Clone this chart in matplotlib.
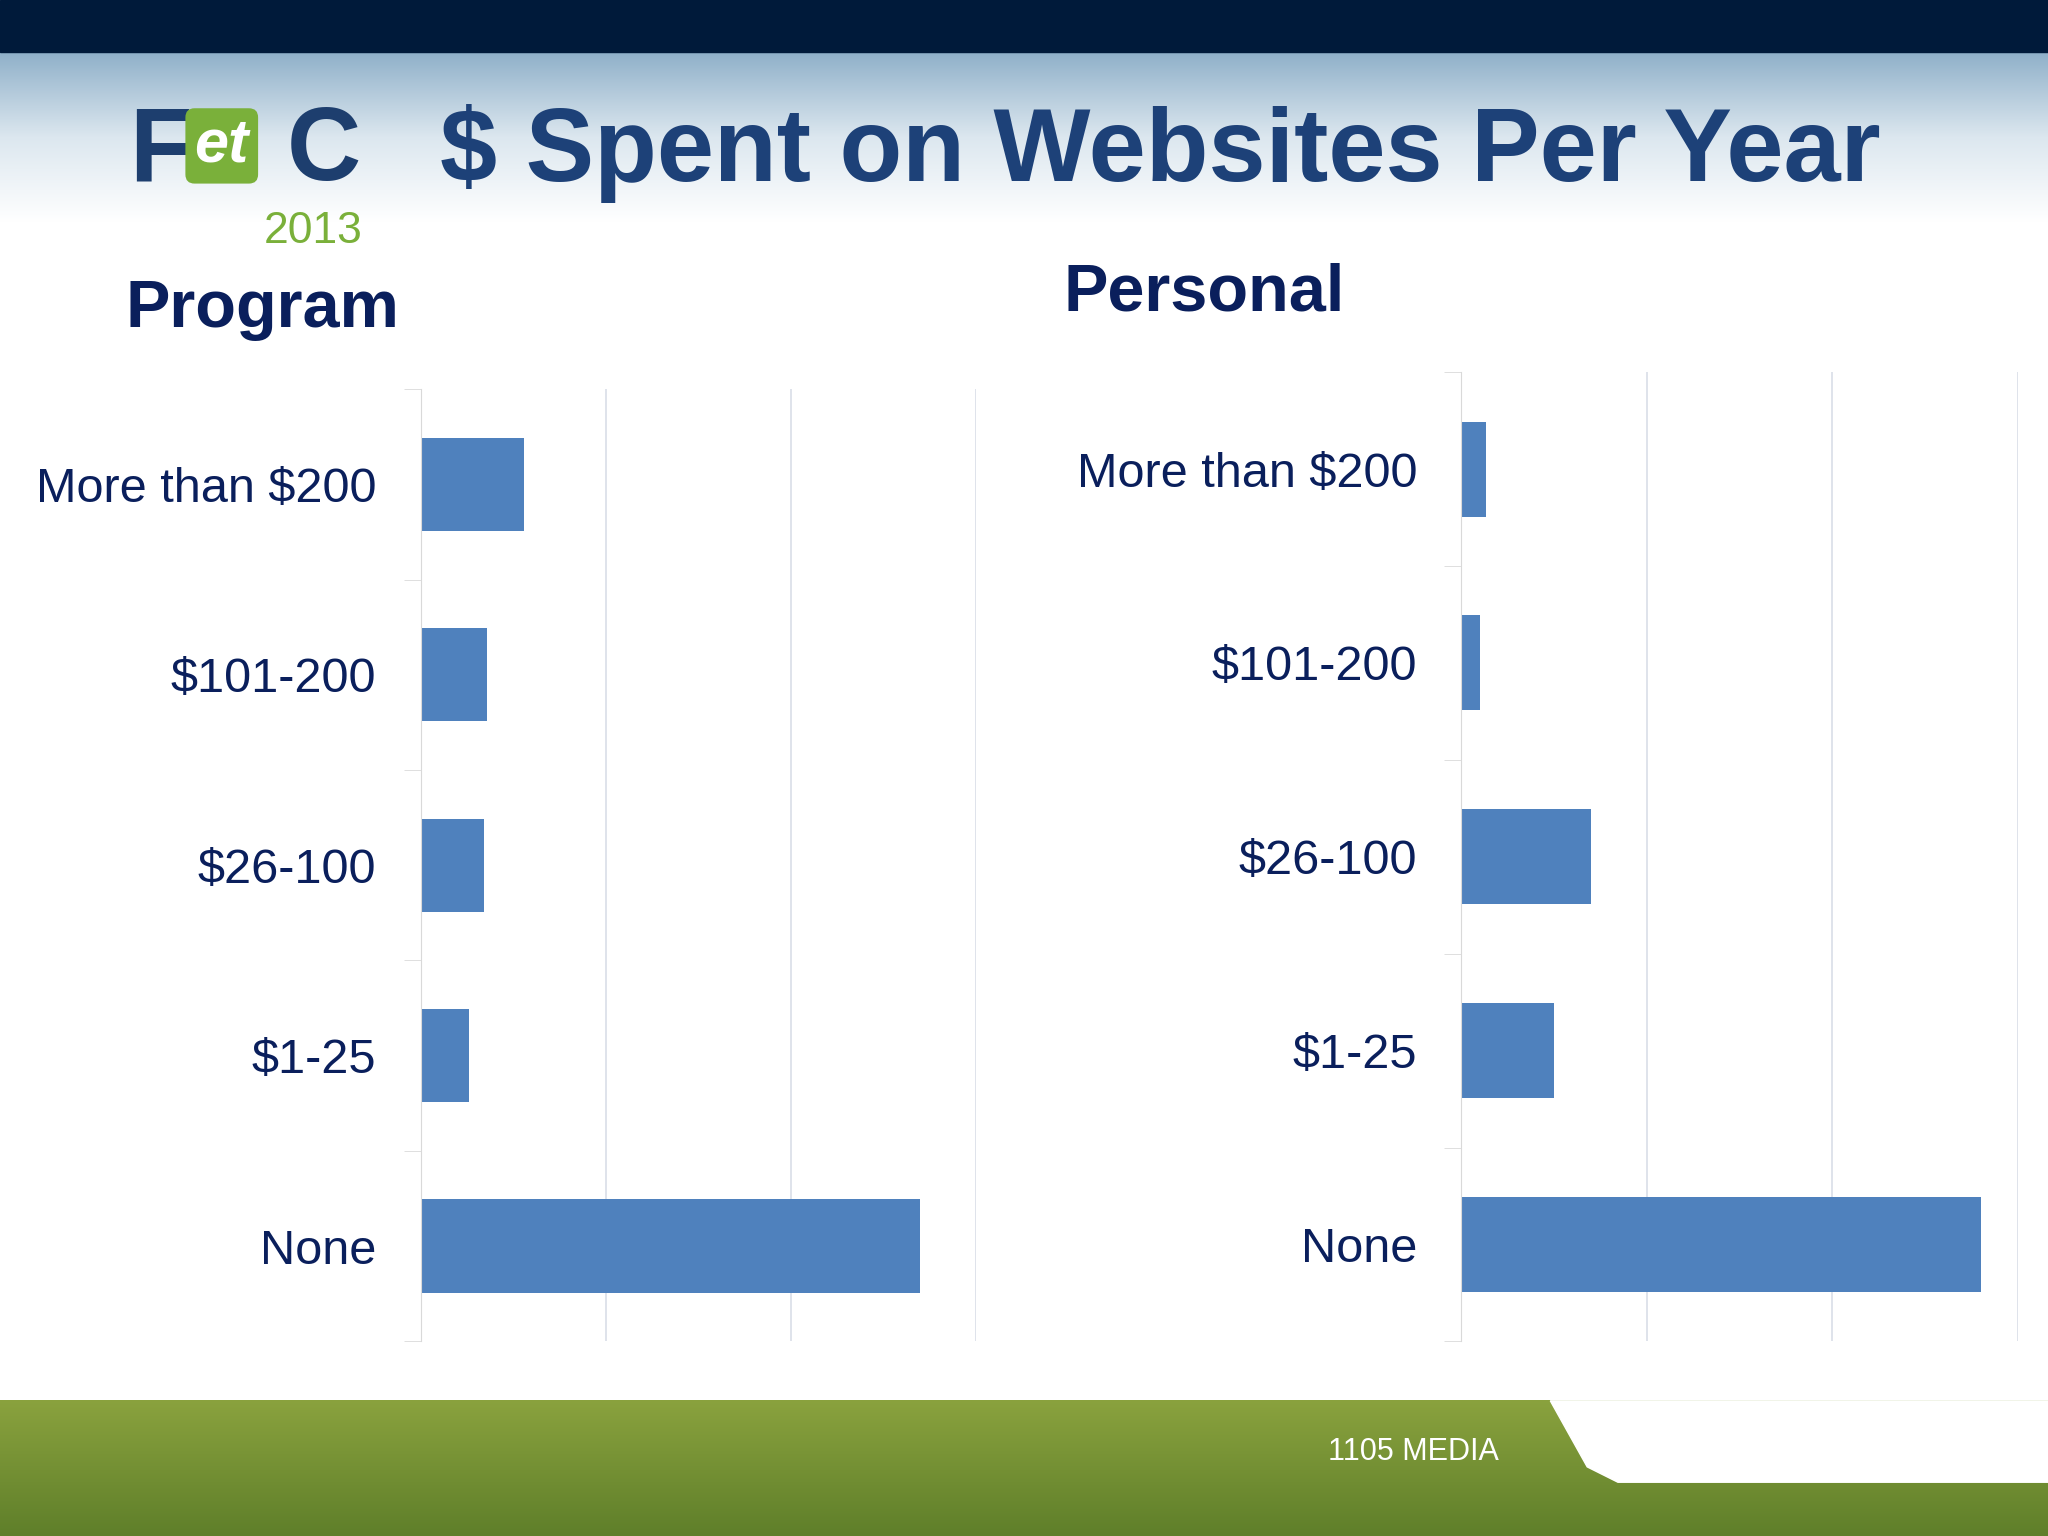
import matplotlib
matplotlib.use("Agg")
import matplotlib.pyplot as plt
import numpy as np
from matplotlib.patches import Polygon
from matplotlib.colors import LinearSegmentedColormap

categories = ["More than $200", "$101-200", "$26-100", "$1-25", "None"]
program_vals = [0.56, 0.36, 0.34, 0.26, 2.70]
personal_vals = [0.13, 0.10, 0.70, 0.50, 2.80]

plt.rcParams['font.family'] = ['Liberation Sans', 'DejaVu Sans']
fig = plt.figure(figsize=(20.48, 15.36), dpi=100)
bg = fig.add_axes([0, 0, 1, 1]); bg.set_xlim(0, 1); bg.set_ylim(0, 1); bg.axis('off')
grad = np.linspace(0, 1, 256).reshape(-1, 1)
cm = LinearSegmentedColormap.from_list('g', ['#ffffff', '#ffffff', '#dce7ef', '#8fb0c9'])
bg.imshow(grad, extent=[0, 1, 0.80, 0.966], aspect='auto', cmap=cm, origin='lower', zorder=0)
bg.add_patch(plt.Rectangle((0, 0.966), 1, 0.034, color='#001a3a', zorder=1))
cmg = LinearSegmentedColormap.from_list('gg', ['#8aa23e', '#5f7f2a'])
bg.imshow(grad, extent=[0, 1, 0, 0.088], aspect='auto', cmap=cmg, zorder=0)
bg.add_patch(Polygon([[0.757, 0.088], [1, 0.088], [1, 0.035], [0.79, 0.035], [0.775, 0.045]],
                     closed=True, color='white', zorder=1))
bg.text(0.69, 0.055, "1105 MEDIA", color='white', fontsize=22, ha='center', va='center', zorder=2)
# logo
bg.text(0.063, 0.90, "F", color='#1d3e6e', fontsize=74, fontweight='bold', va='center', zorder=2)
bg.text(0.095, 0.905, "et", color='white', fontsize=44, fontweight='bold', style='italic', va='center', zorder=3,
        bbox=dict(boxstyle='round,pad=0.15', fc='#7ab03a', ec='none'))
bg.text(0.140, 0.90, "C", color='#1d3e6e', fontsize=74, fontweight='bold', va='center', zorder=2)
bg.text(0.153, 0.849, "2013", color='#7ab03a', fontsize=32, ha='center', va='center', zorder=2)
bg.text(0.215, 0.90, "$ Spent on Websites Per Year", color='#1d4178', fontsize=74, fontweight='bold', va='center', zorder=2)
bg.text(0.128, 0.798, "Program", color='#0a1f5c', fontsize=48, fontweight='bold', ha='center', va='center')
bg.text(0.588, 0.809, "Personal", color='#0a1f5c', fontsize=48, fontweight='bold', ha='center', va='center')

def draw(rect, vals, xmax):
    ax = fig.add_axes(rect)
    y = np.arange(len(categories))
    ax.barh(y, vals, height=0.49, color='#4f81bd', zorder=2)
    ax.set_ylim(len(categories) - 0.5, -0.5)
    ax.set_xlim(0, xmax)
    ax.set_xticks([0, 1, 2, 3])
    ax.set_xticklabels([])
    ax.tick_params(axis='x', length=0)
    ax.grid(axis='x', color='#d9dee8', lw=1.2, zorder=0)
    ax.set_yticks(y)
    ax.set_yticklabels(categories, fontsize=35, color='#0a1f5c')
    ax.tick_params(axis='y', length=0, pad=32)
    ax.set_yticks(np.arange(-0.5, len(categories), 1), minor=True)
    ax.tick_params(axis='y', which='minor', length=12, color='#d9d9d9')
    for s in ['top', 'right', 'bottom']:
        ax.spines[s].set_visible(False)
    ax.spines['left'].set_color('#d9d9d9')
    ax.patch.set_alpha(0)

draw([0.2054, 0.1267, 0.271, 0.620], program_vals, 3.0)
draw([0.7136, 0.1267, 0.2717, 0.631], personal_vals, 3.0)
fig.savefig("out.png", dpi=100)
